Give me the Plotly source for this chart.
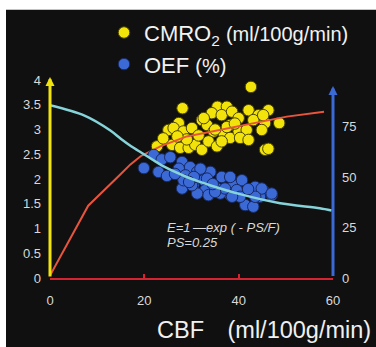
import plotly.graph_objects as go

# --- measured data -------------------------------------------------------
# CMRO2 (ml/100g/min) against CBF (ml/100g/min)
cmro2_cbf = [42.6, 28.1, 35.5, 37.5, 34.3, 36.4, 38.6, 40.0, 42.1, 44.2, 46.3, 43.1,
             45.6, 48.6, 44.9, 27.3, 25.1, 26.2, 28.3, 30.1, 32.2, 33.3, 34.7, 36.8,
             38.2, 40.0, 41.7, 40.3, 42.1, 22.7, 25.9, 27.6, 29.4, 30.8, 32.2, 33.6,
             35.4, 36.4, 45.6, 46.3, 32.6, 38.2, 45.2, 31.5, 29.0, 24.0, 37.5, 39.2,
             35.0, 27.0]
cmro2_val = [3.86, 3.43, 3.46, 3.46, 3.33, 3.29, 3.36, 3.23, 3.39, 3.29, 3.39, 3.19,
             3.13, 3.13, 2.99, 3.13, 2.99, 3.03, 2.96, 3.03, 3.19, 3.09, 2.96, 2.93,
             2.83, 2.96, 2.99, 2.83, 2.79, 2.66, 2.69, 2.63, 2.63, 2.69, 2.59, 2.76,
             2.66, 2.76, 2.59, 2.61, 3.23, 3.09, 3.29, 2.88, 2.80, 2.82, 3.05, 3.12,
             3.00, 2.86]

# OEF (%) against CBF
oef_cbf = [22.0, 19.9, 23.7, 25.5, 23.0, 24.8, 28.0, 29.7, 27.3, 31.2, 28.7, 34.0,
           36.4, 32.6, 28.0, 30.4, 32.9, 35.4, 38.9, 40.7, 43.5, 45.2, 47.0, 41.4,
           43.1, 44.5, 38.2, 40.0, 33.6, 36.1, 31.2, 31.9, 28.3, 30.1, 33.3, 38.2,
           37.1, 39.6, 44.9, 43.5, 47.0, 40.3, 38.6, 35.0, 26.5, 30.5, 34.5, 29.5,
           42.0]
oef_val = [60.9, 54.4, 58.7, 59.8, 52.5, 50.5, 57.4, 54.9, 54.1, 52.5, 50.8, 52.5,
           50.0, 48.4, 44.3, 45.9, 43.5, 44.3, 45.9, 48.4, 45.1, 43.5, 41.0, 36.1,
           35.3, 40.2, 41.0, 42.6, 41.0, 41.8, 41.8, 54.1, 48.4, 45.9, 49.2, 50.0,
           44.3, 43.5, 44.3, 40.2, 41.8, 40.2, 40.2, 42.6, 51.5, 50.0, 46.5, 47.5,
           44.0]

# model curves, E = 1 - exp(-PS/F), PS = 0.25
oef_fit_cbf = [0, 7.2, 12.8, 15.0, 17.2, 19.4, 21.6, 24.1, 29.0, 31.8, 33.9, 40.3,
               48.8, 57.2, 59.7]
oef_fit_val = [85.5, 80.5, 73.0, 68.9, 65.2, 62.0, 58.8, 55.2, 50.0, 47.6, 45.9, 41.5,
               37.0, 34.5, 33.4]
cmro2_fit_cbf = [0, 4.0, 8.1, 14.9, 17.0, 19.2, 23.4, 29.0, 36.1, 43.1, 50.2, 58.1]
cmro2_fit_val = [0.05, 0.75, 1.46, 2.09, 2.29, 2.46, 2.66, 2.86, 2.99, 3.13, 3.26, 3.36]

x_ticks = [0, 20, 40, 60]
left_ticks = [0, 0.5, 1, 1.5, 2, 2.5, 3, 3.5, 4]
right_ticks = [0, 25, 50, 75]

# --- styling ---------------------------------------------------------------
W, H = 376, 347
ML, MR, MT, MB = 50, 43, 78, 69
BG = "#101010"
YELLOW = "#f2e40a"
BLUE = "#3b69d6"
CYAN = "#86d3da"
ORANGE = "#e8553d"
RED = "#d42432"
LABEL = "#d9d9d9"
FONT = "Liberation Sans, Arial, sans-serif"

fig = go.Figure()

fig.add_trace(go.Scatter(
    x=cmro2_cbf, y=cmro2_val, mode="markers", yaxis="y",
    name="CMRO<sub>2</sub> <span style='font-size:20px'>(ml/100g/min)</span>",
    marker=dict(size=11.5, color=YELLOW, line=dict(color="#4a4300", width=1)),
    cliponaxis=False,
))
fig.add_trace(go.Scatter(
    x=oef_cbf, y=oef_val, mode="markers", yaxis="y2",
    name="OEF <span style='font-size:20px'>(%)</span>",
    marker=dict(size=11.5, color=BLUE, line=dict(color="#182a63", width=1)),
    cliponaxis=False,
))
fig.add_trace(go.Scatter(
    x=cmro2_fit_cbf, y=cmro2_fit_val, mode="lines", yaxis="y", showlegend=False,
    line=dict(color=ORANGE, width=2),
))
fig.add_trace(go.Scatter(
    x=oef_fit_cbf, y=oef_fit_val, mode="lines", yaxis="y2", showlegend=False,
    line=dict(color=CYAN, width=2.5, shape="spline", smoothing=0.8),
))

pw = W - ML - MR
ph = H - MT - MB

def px_x(p):
    return (p - ML) / pw

def px_y(p):
    return (H - MB - p) / ph

shapes = [
    # dark slide panel behind everything
    dict(type="rect", xref="paper", yref="paper", layer="below",
         x0=px_x(6), x1=px_x(W + 2), y0=px_y(7), y1=px_y(H + 2),
         fillcolor=BG, line=dict(width=0)),
]

annotations = [
    # vertical axis arrows
    dict(x=0, y=4.06, ax=0, ay=0, xref="x", yref="y", axref="x", ayref="y",
         text="", showarrow=True, arrowhead=2, arrowsize=0.6, arrowwidth=3,
         arrowcolor=YELLOW, standoff=0),
    dict(x=60, y=95, ax=60, ay=0.3, xref="x", yref="y2", axref="x", ayref="y2",
         text="", showarrow=True, arrowhead=2, arrowsize=0.6, arrowwidth=3,
         arrowcolor=BLUE, standoff=0),
    # model equation
    dict(x=24.3, y=1.02, xref="x", yref="y", xanchor="left", yanchor="middle",
         text="<i>E=1\u2009\u2014exp ( - PS/F)</i>", showarrow=False,
         font=dict(size=13, color=LABEL, family=FONT)),
    dict(x=24.3, y=0.72, xref="x", yref="y", xanchor="left", yanchor="middle",
         text="<i>PS=0.25</i>", showarrow=False,
         font=dict(size=13, color=LABEL, family=FONT)),
    # x axis title
    dict(x=px_x(373), y=px_y(331), xref="paper", yref="paper",
         xanchor="right", yanchor="middle",
         text="CBF\u2002\u2002(ml/100g/min)", showarrow=False,
         font=dict(size=23.5, color="#f0f0f0", family=FONT)),
]

fig.update_layout(
    width=W, height=H,
    margin=dict(l=ML, r=MR, t=MT, b=MB),
    paper_bgcolor="white",
    plot_bgcolor="rgba(0,0,0,0)",
    font=dict(family=FONT, color=LABEL),
    shapes=shapes,
    annotations=annotations,
    showlegend=True,
    legend=dict(
        x=px_x(104), y=px_y(9), xanchor="left", yanchor="top",
        bgcolor="rgba(0,0,0,0)", borderwidth=0,
        font=dict(size=22, color="#f2f2f2", family=FONT),
        itemsizing="trace", tracegroupgap=0,
    ),
    xaxis=dict(
        range=[0, 60], tickvals=x_ticks, showgrid=False, zeroline=False,
        showline=True, linecolor=RED, linewidth=2,
        ticks="inside", ticklen=4, tickwidth=2, tickcolor=RED,
        tickfont=dict(size=13, color=LABEL), ticklabelstandoff=9,
    ),
    yaxis=dict(
        range=[0, 4], tickvals=left_ticks, showgrid=False, zeroline=False,
        showline=False, ticks="", tickfont=dict(size=13, color=LABEL),
        ticklabelstandoff=8,
    ),
    yaxis2=dict(
        range=[0, 98], tickvals=right_ticks, overlaying="y", side="right",
        showgrid=False, zeroline=False, showline=False, ticks="",
        tickfont=dict(size=13, color=LABEL), ticklabelstandoff=8,
    ),
)

fig.write_html("out.html")
